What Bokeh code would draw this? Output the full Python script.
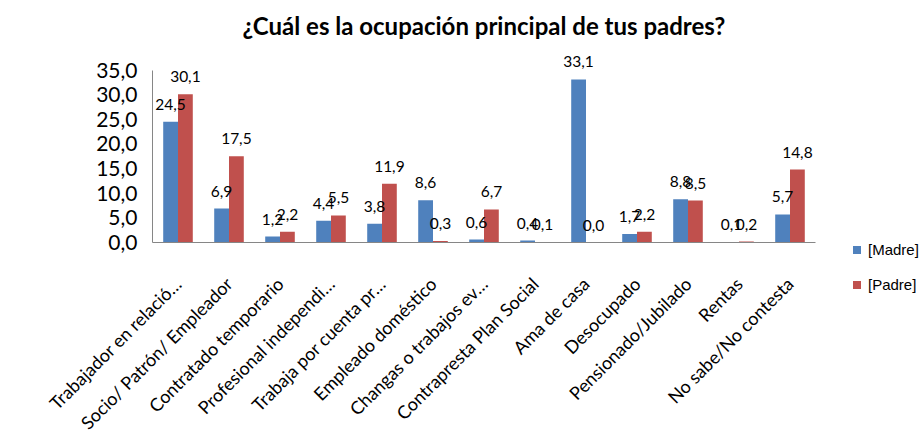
import math
from bokeh.plotting import figure
from bokeh.layouts import row
from bokeh.models import (ColumnDataSource, CustomJSTickFormatter, Range1d, FactorRange,
                          LabelSet, Div)
from bokeh.transform import dodge
from bokeh.core.properties import value
from bokeh.embed import file_html
from bokeh.resources import INLINE

title_text = "¿Cuál es la ocupación principal de tus padres?"
categories = [
    "Trabajador en relació…",
    "Socio/ Patrón/ Empleador",
    "Contratado temporario",
    "Profesional independi…",
    "Trabaja por cuenta pr…",
    "Empleado doméstico",
    "Changas o trabajos ev…",
    "Contrapresta Plan Social",
    "Ama de casa",
    "Desocupado",
    "Pensionado/Jubilado",
    "Rentas",
    "No sabe/No contesta",
]
series_names = ["[Madre]", "[Padre]"]
madre = [24.5, 6.9, 1.2, 4.4, 3.8, 8.6, 0.6, 0.4, 33.1, 1.7, 8.8, 0.1, 5.7]
padre = [30.1, 17.5, 2.2, 5.5, 11.9, 0.3, 6.7, 0.1, 0.0, 2.2, 8.5, 0.2, 14.8]
y_ticks = [0, 5, 10, 15, 20, 25, 30, 35]

def fmt(v):
    return f"{v:.1f}".replace(".", ",")

src = ColumnDataSource(dict(cat=categories, madre=madre, padre=padre,
                            ml=[fmt(v) for v in madre], pl=[fmt(v) for v in padre]))

BLUE = "#4F81BD"
RED = "#C0504D"
FONT = "Lato"
H = 446

p = figure(x_range=FactorRange(*categories, range_padding=0), y_range=Range1d(0, 41),
           width=825, height=H, output_backend="svg", toolbar_location=None,
           min_border_left=152, min_border_right=10, min_border_top=40, min_border_bottom=204)
p.title.text = title_text
p.title.align = "center"
p.title.text_font = FONT
p.title.text_font_size = "24px"
p.title.text_font_style = "bold"
p.title.text_color = "#000000"
p.title.standoff = 1

p.vbar(x=dodge("cat", -0.145, range=p.x_range), top="madre", width=0.29, source=src,
       fill_color=BLUE, line_color=None)
p.vbar(x=dodge("cat", 0.145, range=p.x_range), top="padre", width=0.29, source=src,
       fill_color=RED, line_color=None)

for xf, col in ((-0.145, "ml"), (0.145, "pl")):
    top = "madre" if col == "ml" else "padre"
    lab = LabelSet(x=dodge("cat", xf, range=p.x_range), y=top, text=col, source=src,
                   text_align="center", text_baseline="bottom", y_offset=12,
                   text_font=value(FONT), text_font_size="15.5px", text_color="#000000")
    p.add_layout(lab)

p.xgrid.visible = False
p.ygrid.visible = False
p.outline_line_color = None
p.background_fill_color = None
p.border_fill_color = "white"

p.yaxis.ticker = y_ticks
p.yaxis.bounds = (0, 35)
p.yaxis.formatter = CustomJSTickFormatter(code="return tick.toFixed(1).replace('.', ',');")
p.yaxis.major_label_text_font = FONT
p.yaxis.major_label_text_font_size = "21px"
p.yaxis.major_label_text_color = "#000000"
p.yaxis.major_tick_line_color = None
p.yaxis.minor_tick_line_color = None
p.yaxis.axis_line_color = "#868686"
p.yaxis.major_label_standoff = 9

p.xaxis.major_label_orientation = math.pi / 4
p.xaxis.major_label_text_font = FONT
p.xaxis.major_label_text_font_size = "18px"
p.xaxis.major_label_text_color = "#000000"
p.xaxis.major_tick_line_color = None
p.xaxis.minor_tick_line_color = None
p.xaxis.axis_line_color = "#868686"
p.xaxis.major_label_standoff = 32

# legend (HTML) to the right of the plot
items_html = ""
for i, (name, color) in enumerate(zip(series_names, [BLUE, RED])):
    top_px = 240 + i * 35
    items_html += (
        f'<div style="position:absolute;left:28px;top:{top_px}px;height:20px;'
        f'display:flex;align-items:center;white-space:nowrap;">'
        f'<span style="display:inline-block;width:8px;height:8px;background:{color};'
        f'margin-right:7px;"></span>'
        f'<span style="font-family:\'Liberation Sans\';font-size:15px;color:#000;">{name}</span>'
        f'</div>'
    )
legend_div = Div(text=f'<div style="position:relative;width:97px;height:{H}px;">{items_html}</div>',
                 width=97, height=H, margin=(0, 0, 0, 0))

layout = row(p, legend_div)
open("out.html", "w").write(file_html(layout, INLINE))
